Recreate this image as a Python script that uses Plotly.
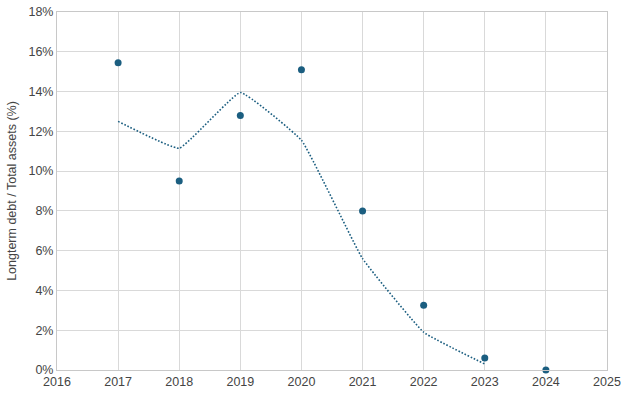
import plotly.graph_objects as go

years = [2017, 2018, 2019, 2020, 2021, 2022, 2023, 2024]
ratio_pct = [15.45, 9.5, 12.8, 15.1, 8.0, 3.25, 0.6, 0.0]

trend_years = [2017, 2018, 2019, 2020, 2021, 2022, 2023]
trend_pct = [12.5, 11.15, 13.95, 11.55, 5.6, 1.9, 0.3]

color = "#1b5e80"

fig = go.Figure()
fig.add_trace(go.Scatter(
    x=trend_years, y=trend_pct, mode="lines",
    line=dict(color=color, width=1.6, dash="1.6px,1.8px", shape="spline", smoothing=0.3),
    hoverinfo="skip", showlegend=False,
))
fig.add_trace(go.Scatter(
    x=years, y=ratio_pct, mode="markers",
    marker=dict(color=color, size=7),
    cliponaxis=False, showlegend=False,
))

fig.update_layout(
    width=628, height=398,
    margin=dict(l=57, r=21, t=12, b=28, autoexpand=False),
    paper_bgcolor="white", plot_bgcolor="white",
    font=dict(family="Liberation Sans, Arial, sans-serif", size=12, color="#444"),
)
fig.update_xaxes(
    range=[2016, 2025], dtick=1, tick0=2016, automargin=False,
    showgrid=True, gridcolor="#d9d9d9", gridwidth=1,
    showline=True, linecolor="#c8c8c8", linewidth=1, mirror=True,
    ticks="", zeroline=False,
    tickfont=dict(size=12.5, color="#444"),
)
fig.update_yaxes(
    range=[0, 18], dtick=2, ticksuffix="%", automargin=False,
    showgrid=True, gridcolor="#d9d9d9", gridwidth=1,
    showline=True, linecolor="#c8c8c8", linewidth=1, mirror=True,
    ticks="", zeroline=False,
    tickfont=dict(size=12.5, color="#444"),
    title=dict(text="Longterm debt / Total assets (%)", font=dict(size=12.5, color="#444"), standoff=9),
)

fig.write_html("out.html", config={"displayModeBar": False},
               post_script="document.body.style.margin='0';")
